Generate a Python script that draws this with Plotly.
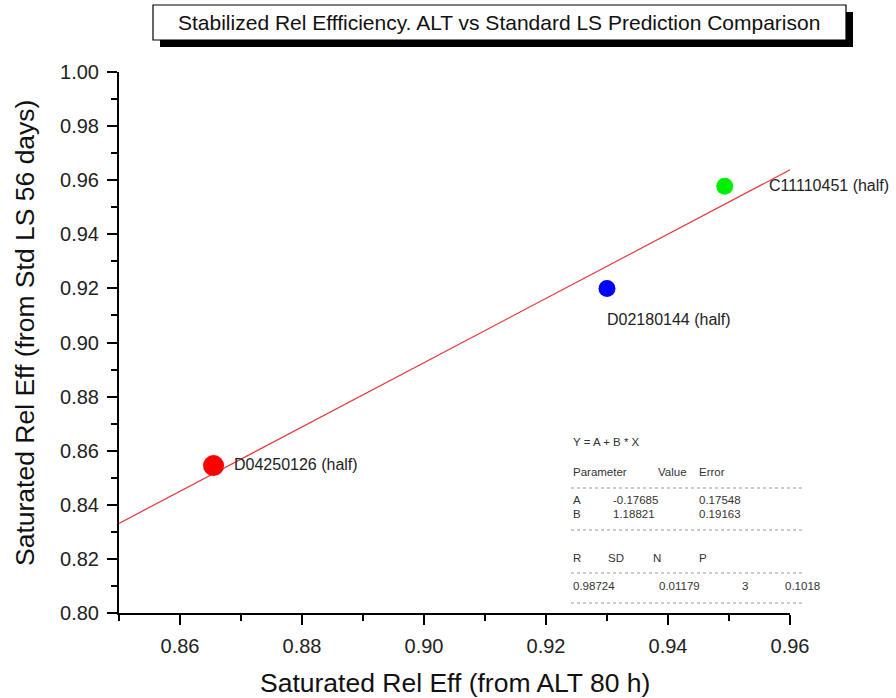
import plotly.graph_objects as go

# ---- data ----
sample_names = ["D04250126 (half)", "D02180144 (half)", "C11110451 (half)"]
x_alt = [0.8655, 0.9300, 0.9493]
y_std = [0.8545, 0.9200, 0.9578]
point_colors = ["#ff0000", "#0000ff", "#00ee00"]
point_sizes = [21, 17, 17]

fit_A = -0.17685
fit_B = 1.18821
fit_x = [0.85, 0.96]

x_ticks = [0.86, 0.88, 0.90, 0.92, 0.94, 0.96]
y_ticks = [0.80, 0.82, 0.84, 0.86, 0.88, 0.90, 0.92, 0.94, 0.96, 0.98, 1.00]

param_rows = [["A", "-0.17685", "0.17548"], ["B", "1.18821", "0.19163"]]
stat_header = ["R", "SD", "N", "P"]
stat_values = ["0.98724", "0.01179", "3", "0.1018"]

FONT = "Liberation Sans, Arial, sans-serif"
W, H = 896, 698
L, R, T, B = 119, 106, 72, 85
PW, PH = W - L - R, H - T - B


def px(xp):
    return (xp - L) / PW


def py(yp):
    return (H - B - yp) / PH


fig = go.Figure()

fit_y = [fit_A + fit_B * v for v in fit_x]
fig.add_trace(go.Scatter(x=fit_x, y=fit_y, mode="lines",
                         line=dict(color="#e8383d", width=1.2), hoverinfo="skip"))

fig.add_trace(go.Scatter(x=x_alt, y=y_std, mode="markers",
                         marker=dict(color=point_colors, size=point_sizes, opacity=1,
                                     line=dict(width=0))))

annotations = []
offsets = [(18, 1, "left"), (-2, -31, "left"), (42, 1, "left")]
for name, xv, yv, (xs, ys, anc) in zip(sample_names, x_alt, y_std, offsets):
    annotations.append(dict(x=xv, y=yv, xref="x", yref="y", text=name, showarrow=False,
                            xanchor=anc, yanchor="middle", xshift=xs, yshift=ys,
                            font=dict(family=FONT, size=16, color="#222")))

# title box
shapes = [
    dict(type="rect", xref="paper", yref="paper", x0=px(160), x1=px(853), y0=py(47), y1=py(12),
         fillcolor="black", line=dict(width=0), layer="above"),
    dict(type="rect", xref="paper", yref="paper", x0=px(153), x1=px(846), y0=py(40), y1=py(5),
         fillcolor="white", line=dict(color="black", width=1.2), layer="above"),
]
annotations.append(dict(x=px(499), y=py(23), xref="paper", yref="paper",
                        text="Stabilized Rel Effficiency. ALT vs Standard LS Prediction Comparison",
                        showarrow=False, xanchor="center", yanchor="middle",
                        font=dict(family=FONT, size=21, color="#111")))

# axis titles
annotations.append(dict(x=px(455), y=py(683), xref="paper", yref="paper",
                        text="Saturated Rel Eff (from ALT 80 h)", showarrow=False,
                        xanchor="center", yanchor="middle",
                        font=dict(family=FONT, size=26.5, color="#111")))
annotations.append(dict(x=px(25), y=py(333), xref="paper", yref="paper",
                        text="Saturated Rel Eff (from Std LS 56 days)", showarrow=False,
                        textangle=-90, xanchor="center", yanchor="middle",
                        font=dict(family=FONT, size=26.5, color="#111")))

# stats table
sf = dict(family=FONT, size=11.5, color="#333")


def txt(t, xp, yp):
    annotations.append(dict(x=px(xp), y=py(yp), xref="paper", yref="paper", text=t,
                            showarrow=False, xanchor="left", yanchor="middle", font=sf))


txt("Y = A + B * X", 571, 442)
txt("Parameter", 571, 472)
txt("Value", 656, 472)
txt("Error", 697, 472)
row_y = [500, 514]
for (p, v, e), yy in zip(param_rows, row_y):
    txt(p, 571, yy)
    txt(v, 611, yy)
    txt(e, 697, yy)
for t, xx in zip(stat_header, [571, 606, 651, 697]):
    txt(t, xx, 558)
for t, xx in zip(stat_values, [571, 657, 740, 783]):
    txt(t, xx, 586)
for yy in [488, 530, 573, 603]:
    shapes.append(dict(type="line", xref="paper", yref="paper", x0=px(571), x1=px(805),
                       y0=py(yy), y1=py(yy), line=dict(color="#999", width=1, dash="dot")))

axis_common = dict(showgrid=False, zeroline=False, showline=True, linecolor="black", linewidth=2,
                   ticks="outside", ticklen=10, tickwidth=2, tickcolor="black",
                   tickfont=dict(family=FONT, size=20, color="#222"),
                   minor=dict(ticks="outside", ticklen=6, tickwidth=2, tickcolor="black", dtick=0.01))

fig.update_layout(
    width=W, height=H, margin=dict(l=L, r=R, t=T, b=B),
    paper_bgcolor="white", plot_bgcolor="white", showlegend=False,
    xaxis=dict(range=[0.85, 0.96], tickvals=x_ticks, ticktext=[f"{v:.2f}" for v in x_ticks],
               ticklabelstandoff=4, **axis_common),
    yaxis=dict(range=[0.80, 1.00], tickvals=y_ticks, ticktext=[f"{v:.2f}" for v in y_ticks],
               ticklabelstandoff=4, **axis_common),
    shapes=shapes, annotations=annotations,
)

fig.write_html("out.html")
